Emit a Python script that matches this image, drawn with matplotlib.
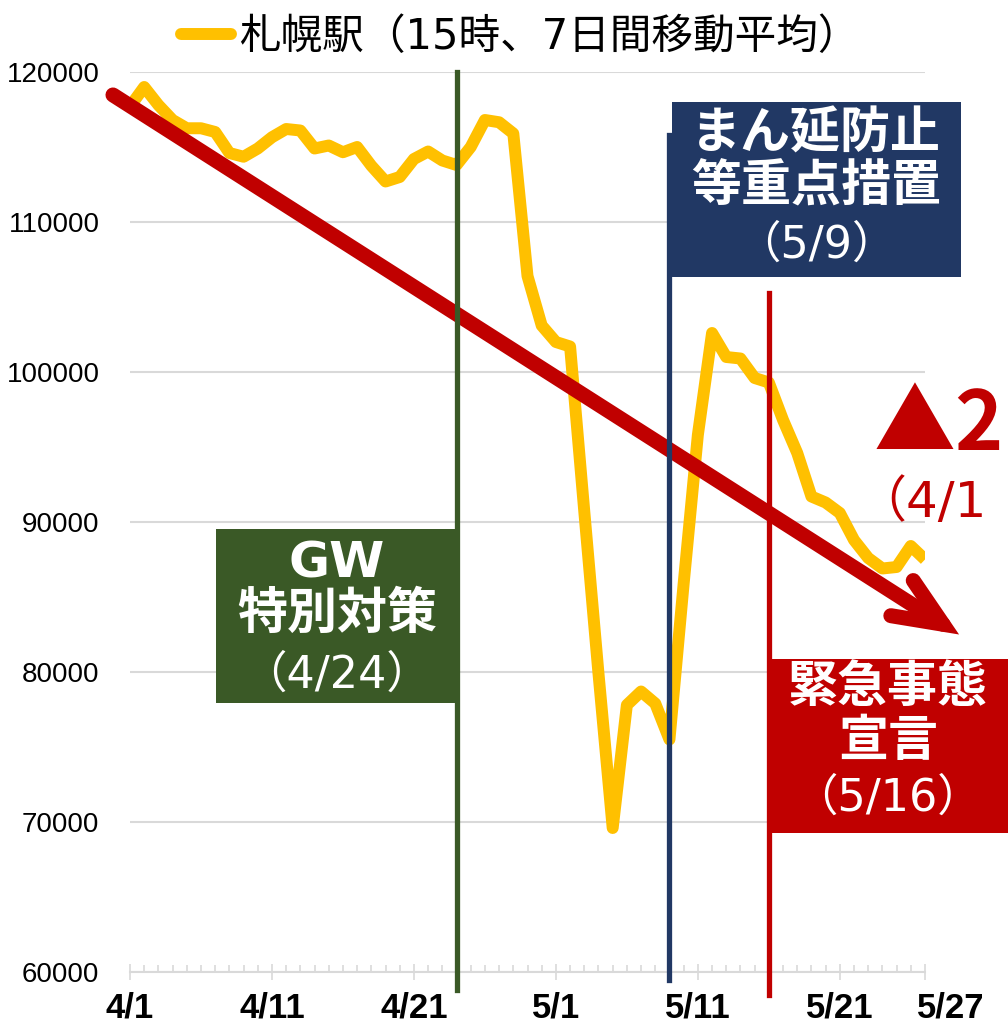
import numpy as np
import pandas as pd
import matplotlib
matplotlib.use('Agg')
import matplotlib.pyplot as plt
import matplotlib.transforms as mtransforms
from matplotlib.lines import Line2D
from matplotlib.patches import Rectangle, FancyArrowPatch, ArrowStyle
from matplotlib.ticker import MultipleLocator

# daily categories 4/1 .. 5/27
dates = pd.date_range('2021-04-01', '2021-05-27')
days = np.arange(len(dates))

# Sapporo station, 15:00, 7-day moving average
sapporo = [117700, 119000, 117800, 116800, 116250, 116250, 116000, 114600, 114350, 114900,
           115650, 116200, 116100, 114900, 115100, 114650, 115000, 113750, 112700, 113000,
           114200, 114700, 114100, 113800, 115000, 116800, 116650, 115900, 106400, 103100,
           102000, 101700, 90700, 79900, 69600, 77800, 78700, 77900, 75500, 85900,
           95800, 102600, 101000, 100900, 99600, 99300, 96800, 94600, 91700, 91300,
           90600, 88800, 87600, 86900, 87000, 88400, 87500]

tick_pos = [0, 10, 20, 30, 40, 50, 56]
tick_labels = ['4/1', '4/11', '4/21', '5/1', '5/11', '5/21', '5/27']
y_ticks = [60000, 70000, 80000, 90000, 100000, 110000, 120000]

# policy events: (day index, title lines, date line)
event_days = [23, 38, 45]
event_titles = [['GW', '特別対策'], ['まん延防止', '等重点措置'], ['緊急事態', '宣言']]
event_dates = ['（4/24）', '（5/9）', '（5/16）']

YELLOW = '#FFC000'
RED = '#C00000'
GREEN = '#3A5926'
NAVY = '#213864'
GRID = '#D9D9D9'
JP = ['Noto Sans CJK JP', 'DejaVu Sans']
LATIN_JP = ['DejaVu Sans', 'Noto Sans CJK JP']

W, H = 1008, 1023
fig = plt.figure(figsize=(W / 100, H / 100), dpi=100)
ax = fig.add_axes([130 / W, 51 / H, 795 / W, 900 / H])

# pixel coords (top-left origin) for the decorations
pix = mtransforms.Affine2D().scale(1 / W, -1 / H).translate(0, 1) + fig.transFigure
xpix = mtransforms.blended_transform_factory(ax.transData, pix)

ax.plot(days, sapporo, color=YELLOW, lw=8.6, solid_joinstyle='round',
        solid_capstyle='butt', zorder=2, label='札幌駅（15時、7日間移動平均）')

ax.set_xlim(0, 56)
ax.set_ylim(60000, 120000)

# trend arrow
arrow = FancyArrowPatch(posA=(-1.2, 118470), posB=(58.4, 82500),
                        arrowstyle=ArrowStyle('->', head_length=35, head_width=15),
                        mutation_scale=1, shrinkA=0, shrinkB=0, lw=10.8,
                        color=RED, capstyle='round', joinstyle='miter', zorder=3)
arrow.set_clip_on(False)
ax.add_patch(arrow)

# event lines
line_spans = [(72, 990), (135, 980), (293, 995)]
line_cols = [GREEN, NAVY, RED]
for d, (top, bot), c in zip(event_days, line_spans, line_cols):
    ax.add_line(Line2D([d, d], [top, bot], transform=xpix, color=c, lw=3.8,
                       zorder=4, clip_on=False))

# event boxes: left, top, width, height in pixels, text centre x, line centres y
boxes = [(216, 529, 241, 174, 337, (564, 615, 675)),
         (672, 102, 289, 175, 816, (135, 188, 245)),
         (771, 659, 260, 174, 888, (688, 742, 798))]
for (l, t, w, h, cx, ys), c, titles, dt in zip(boxes, line_cols, event_titles, event_dates):
    fig.add_artist(Rectangle((l, t + h), w, -h, transform=pix, facecolor=c,
                             edgecolor='none', zorder=5))
    for txt, y in zip(titles, ys[-len(titles) - 1:-1]):
        fig.text(cx, y, txt, transform=pix, ha='center', va='center', color='white',
                 fontsize=36, fontweight='bold', family=LATIN_JP, zorder=6)
    fig.text(cx, ys[-1], dt, transform=pix, ha='center', va='center', color='white',
             fontsize=32, family=LATIN_JP, zorder=6)

# change label at the right edge
fig.text(874, 426, '▲2', transform=pix, ha='left', va='center', color=RED,
         fontsize=59, fontweight='bold', family=JP)
fig.text(856, 503, '（4/1', transform=pix, ha='left', va='center', color=RED,
         fontsize=36, family=LATIN_JP)

# axes styling
for s in ['left', 'right', 'top']:
    ax.spines[s].set_visible(False)
ax.spines['bottom'].set_color(GRID)
ax.spines['bottom'].set_linewidth(1.5)
ax.set_axisbelow(True)
ax.yaxis.grid(True, color=GRID, lw=1.5)

ax.set_yticks(y_ticks)
ax.set_yticklabels([str(v) for v in y_ticks], family='Liberation Sans', fontsize=20)
ax.tick_params(axis='y', length=0, pad=22)

ax.set_xticks(tick_pos)
ax.set_xticklabels(tick_labels, family='Liberation Sans', fontweight='bold', fontsize=25)
ax.xaxis.set_minor_locator(MultipleLocator(1))
ax.tick_params(axis='x', which='major', direction='inout', length=11.5, width=1.2,
               color=GRID, pad=8)
ax.tick_params(axis='x', which='minor', direction='in', length=5, width=1.2, color=GRID)
last = ax.get_xticklabels()[-1]
last.set_transform(last.get_transform() +
                   mtransforms.ScaledTranslation(0.26, 0, fig.dpi_scale_trans))

ax.legend(loc='center left', bbox_to_anchor=(181, 37), bbox_transform=pix,
          frameon=False, handlelength=1.2, handletextpad=0.2, borderpad=0,
          borderaxespad=0, prop={'family': LATIN_JP, 'size': 30})
for h in ax.get_legend().get_lines():
    h.set_solid_capstyle('round')

fig.savefig('out.png', dpi=100)
